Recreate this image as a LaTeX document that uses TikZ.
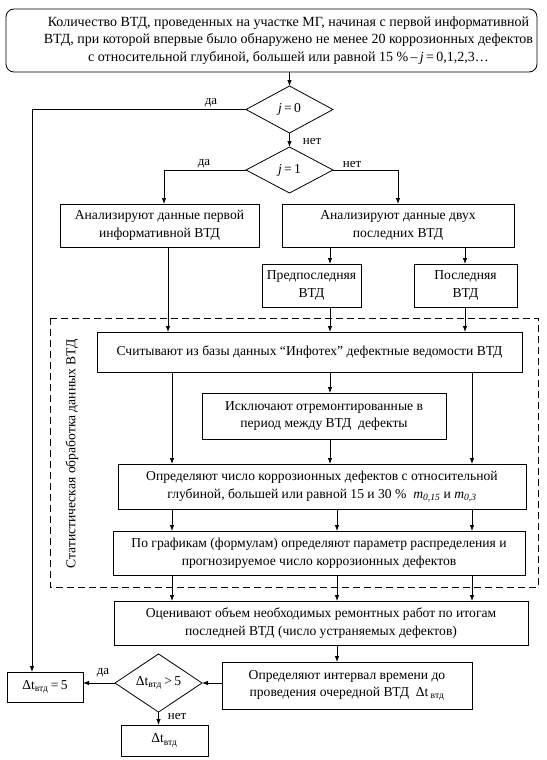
\documentclass[tikz,border=0pt]{standalone}
\usepackage{fontspec}
\setmainfont{Liberation Serif}
\usetikzlibrary{arrows.meta,shapes.geometric}
\begin{document}
\begin{tikzpicture}[x=1pt,y=-1pt,
  font=\fontsize{13.6}{17.5}\selectfont,
  line width=0.8pt,
  box/.style={draw, inner sep=0pt, outer sep=0pt, align=center, anchor=north west},
  dia/.style={draw, diamond, inner sep=0pt, outer sep=0pt, minimum width=87pt, minimum height=47pt},
  arr/.style={-{Latex[length=6pt,width=4.5pt]}},
  lbl/.style={inner sep=0pt, font=\fontsize{13}{14}\selectfont}]
\useasboundingbox (0,0) rectangle (546,760);

% column coordinates
\coordinate (cA) at (168,0);
\coordinate (cB) at (172,0);
\coordinate (cJ) at (164,0);
\coordinate (cmu) at (330,0);
\coordinate (cml) at (337,0);
\coordinate (cru) at (465,0);
\coordinate (crl) at (472,0);
\coordinate (cx) at (32,0);

% nodes
\node[box, rounded corners=8pt, minimum width=531pt, minimum height=63pt, font=\fontsize{14}{17.5}\selectfont] (top) at (6,9)
 {\hspace*{34pt}Количество ВТД, проведенных на участке МГ, начиная с первой информативной\\
  \hspace*{34pt}ВТД, при которой впервые было обнаружено не менее 20 коррозионных дефектов\\
  \hspace*{34pt}с относительной глубиной, большей или равной 15~\%\,–\,\textit{j}\,=\,0,1,2,3…};

\node[dia] (j0) at (289.5,109.5) {\textit{j}\,=\,0};
\node[dia, minimum height=46pt] (j1) at (289.5,170) {\textit{j}\,=\,1};

\node[box, minimum width=199pt, minimum height=43pt] (left) at (60,204)
 {Анализируют данные первой\\информативной ВТД};
\node[box, minimum width=232pt, minimum height=43pt] (right) at (282,204)
 {Анализируют данные двух\\последних ВТД};
\node[box, minimum width=99pt, minimum height=43pt] (pen) at (262,264)
 {Предпоследняя\\ВТД};
\node[box, minimum width=103pt, minimum height=43pt] (last) at (414,264)
 {Последняя\\ВТД};

\draw[dashed, dash pattern=on 7pt off 4pt] (50,318) rectangle (538,587);
\node[rotate=90, inner sep=0pt] (stat) at (72,454) {Статистическая обработка данных ВТД};

\node[box, minimum width=425pt, minimum height=40pt] (read) at (97,332)
 {Считывают из базы данных “Инфотех” дефектные ведомости ВТД};
\node[box, minimum width=244pt, minimum height=46pt] (excl) at (202,393)
 {Исключают отремонтированные в\\период между ВТД\ \ дефекты};
\node[box, minimum width=408pt, minimum height=45pt] (det) at (118,464)
 {Определяют число коррозионных дефектов с относительной\\
  глубиной, большей или равной 15 и 30~\%\ \ \textit{m}\textsubscript{\textit{0,15}} и \textit{m}\textsubscript{\textit{0,3}}};
\node[box, minimum width=412pt, minimum height=44pt] (graph) at (113,531)
 {По графикам (формулам) определяют параметр распределения и\\прогнозируемое число коррозионных дефектов};
\node[box, minimum width=414pt, minimum height=44pt] (eval) at (114,601)
 {Оценивают объем необходимых ремонтных работ по итогам\\последней ВТД (число устраняемых дефектов)};
\node[box, minimum width=250pt, minimum height=47pt] (interval) at (222,662)
 {Определяют интервал времени до\\проведения очередной ВТД\ \ Δt\,\textsubscript{втд}};

\node[dia, minimum height=46pt] (dd) at (158.5,683) {Δt\textsubscript{втд}\,>\,5};
\node[box, minimum width=76pt, minimum height=30pt] (d5) at (7,672) {Δt\textsubscript{втд}\,=\,5};
\node[box, minimum width=87pt, minimum height=31pt] (dt) at (121,725) {Δt\textsubscript{втд}};

% connectors
\draw[arr] (top.south -| j0.north) -- (j0.north);
\draw[arr] (j0.south) -- (j1.north);
\draw[arr] (j0.west) -| (cx |- d5.north);
\draw[arr] (j1.west) -| (cJ |- left.north);
\draw[arr] (j1.east) -| (right.north);
\draw[arr] (right.south -| cmu) -- (pen.north -| cmu);
\draw[arr] (right.south -| cru) -- (last.north -| cru);
\draw[arr] (left.south -| cA) -- (read.north -| cA);
\draw[arr] (pen.south -| cmu) -- (read.north -| cmu);
\draw[arr] (last.south -| cru) -- (read.north -| cru);
\draw[arr] (read.south -| cmu) -- (excl.north -| cmu);
\draw[arr] (read.south -| cB) -- (det.north -| cB);
\draw[arr] (read.south -| crl) -- (det.north -| crl);
\draw[arr] (excl.south -| cmu) -- (det.north -| cmu);
\draw[arr] (det.south -| cB) -- (graph.north -| cB);
\draw[arr] (det.south -| cml) -- (graph.north -| cml);
\draw[arr] (det.south -| crl) -- (graph.north -| crl);
\draw[arr] (graph.south -| cB) -- (eval.north -| cB);
\draw[arr] (graph.south -| cml) -- (eval.north -| cml);
\draw[arr] (graph.south -| crl) -- (eval.north -| crl);
\draw[arr] (eval.south -| cml) -- (interval.north -| cml);
\draw[arr] (interval.west |- dd.east) -- (dd.east);
\draw[arr] (dd.west) -- (dd.west -| d5.east);
\draw[arr] (dd.south) -- (dd.south |- dt.north);

% labels
\node[lbl] (l1) at (211,103) {да};
\node[lbl] (l2) at (312,141) {нет};
\node[lbl] (l3) at (204,164) {да};
\node[lbl] (l4) at (352,164) {нет};
\node[lbl] (l5) at (103,673) {да};
\node[lbl] (l6) at (177,716) {нет};
\end{tikzpicture}
\end{document}
